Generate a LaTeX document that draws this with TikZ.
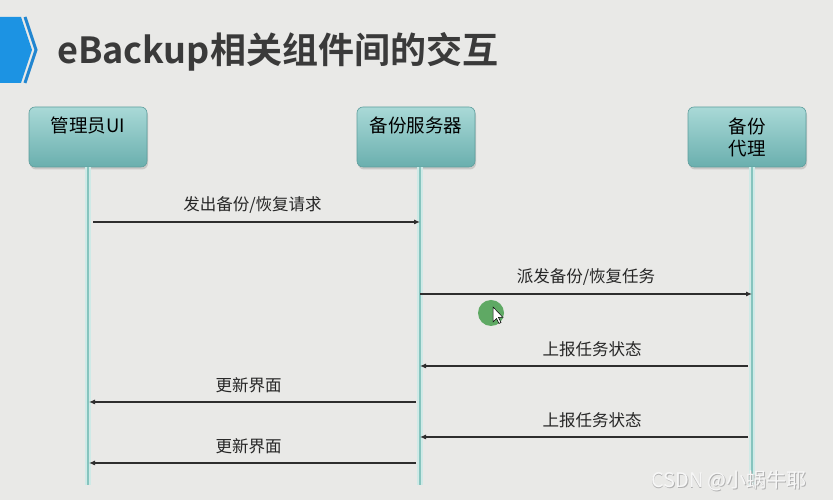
\documentclass[tikz,border=0pt]{standalone}
\usepackage{fontspec}
\setmainfont{Noto Sans CJK SC}[BoldFont={* Bold}]
\usetikzlibrary{arrows.meta,shadows,calc}
\definecolor{bg}{HTML}{E9E9E7}
\definecolor{titlec}{HTML}{3A3A3A}
\definecolor{chev}{HTML}{1C93E3}
\definecolor{chevline}{HTML}{2286D0}
\definecolor{boxtop}{HTML}{A9D9D7}
\definecolor{boxbot}{HTML}{6AAFAE}
\definecolor{boxedge}{HTML}{5E9E9D}
\definecolor{life}{HTML}{86C4BE}
\definecolor{lifeglow}{HTML}{CFEAE7}
\definecolor{msg}{HTML}{2E2E2E}
\definecolor{dot}{HTML}{5FA964}
\tikzset{
  x=1pt,y=1pt,
  actor/.style={draw=boxedge, line width=0.6pt, rounded corners=6pt,
    top color=boxtop, bottom color=boxbot, minimum width=118pt, minimum height=60pt,
    align=center, font=\fontsize{18.5}{22}\selectfont, text=black,
    drop shadow={opacity=0.3, shadow xshift=1pt, shadow yshift=-2.5pt}},
  lifeline/.style={line width=2pt, draw=life, preaction={draw=lifeglow, line width=6pt}},
  msgline/.style={draw=msg, line width=1.1pt, -{Latex[length=6pt,width=5pt]}},
  msglabel/.style={font=\fontsize{16.5}{18}\selectfont, text=black!85, yshift=17pt},
  wmark/.style={font=\fontsize{20}{22}\selectfont, anchor=center}
}
\begin{document}
\begin{tikzpicture}
\fill[bg] (0,0) rectangle (833,500);
\useasboundingbox (0,0) rectangle (833,500);
% chevron
\fill[chev] (0,483) -- (21,483) -- (32,450) -- (21,417) -- (0,417) -- cycle;
\draw[chevline, line width=3pt, line join=miter] (25,483) -- (36,450) -- (25,417);
% title
\node[anchor=base west, inner sep=0pt, text=titlec, font=\fontsize{36}{40}\selectfont\bfseries] (title) at (57,436) {eBackup相关组件间的交互};
% actors
\node[actor] (ui) at (88,363) {管理员UI\\[2pt]\mbox{}};
\node[actor] (srv) at (416,363) {备份服务器\\[2pt]\mbox{}};
\node[actor] (agt) at (747,363) {备份\\代理};
% lifelines
\coordinate (uiT) at (88,333);
\coordinate (uiB) at (88,15);
\coordinate (srvT) at (420,333);
\coordinate (srvB) at (420,15);
\coordinate (agtT) at (752,333);
\coordinate (agtB) at (752,15);
\draw[lifeline] (uiT) -- (uiB);
\draw[lifeline] (srvT) -- (srvB);
\draw[lifeline] (agtT) -- (agtB);
% message endpoints
\coordinate (m1a) at (93,278);  \coordinate (m1b) at (420,278);
\coordinate (m2a) at (420,206); \coordinate (m2b) at (752,206);
\coordinate (m3a) at (748,134); \coordinate (m3b) at (420,134);
\coordinate (m4a) at (416,98);  \coordinate (m4b) at (89,98);
\coordinate (m5a) at (748,63);  \coordinate (m5b) at (420,63);
\coordinate (m6a) at (416,37);  \coordinate (m6b) at (89,37);
\draw[msgline] (m1a) -- node[msglabel, xshift=-4pt] (l1) {发出备份/恢复请求} (m1b);
\draw[msgline] (m2a) -- node[msglabel] (l2) {派发备份/恢复任务} (m2b);
\draw[msgline] (m3a) -- node[msglabel, xshift=8pt] (l3) {上报任务状态} (m3b);
\draw[msgline] (m4a) -- node[msglabel, xshift=-4pt] (l4) {更新界面} (m4b);
\draw[msgline] (m5a) -- node[msglabel, xshift=8pt] (l5) {上报任务状态} (m5b);
\draw[msgline] (m6a) -- node[msglabel, xshift=-4pt] (l6) {更新界面} (m6b);
% pointer highlight
\fill[dot] (491,187) circle (13);
\filldraw[fill=white, draw=black, line width=0.5pt] (493,193) -- (493,178) -- (496.5,181.5) -- (499,176.5) -- (501,177.5) -- (498.5,182.5) -- (503,182.5) -- cycle;
% watermark
\node[wmark, text=gray!60] (wm0) at (729.8,18.3) {CSDN @小蜗牛耶};
\node[wmark, text=white!97!black] (wm) at (729,19) {CSDN @小蜗牛耶};
\end{tikzpicture}
\end{document}
